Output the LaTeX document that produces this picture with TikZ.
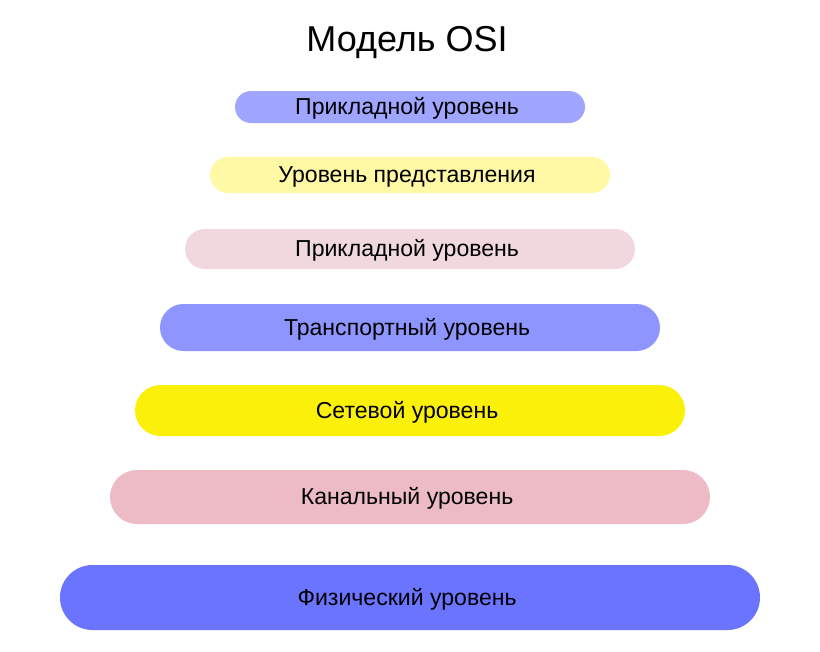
\documentclass[tikz,border=0pt]{standalone}
\usepackage{fontspec}
\setmainfont{Liberation Sans}
\definecolor{cA}{HTML}{A0A6FF}
\definecolor{cB}{HTML}{FFF9A6}
\definecolor{cC}{HTML}{F0D8DE}
\definecolor{cD}{HTML}{8E95FF}
\definecolor{cE}{HTML}{FBF00A}
\definecolor{cF}{HTML}{EDBBC6}
\definecolor{cG}{HTML}{6A74FF}
\tikzset{
  layerbar/.style n args={3}{fill=#1, draw=none, inner sep=0pt,
    minimum width=#2*0.75pt, minimum height=#3*0.75pt,
    rounded corners=#3*0.375pt},
  layertext/.style={font=\fontsize{17.3pt}{20pt}\selectfont, text=black, inner sep=0pt},
  titlenode/.style={font=\fontsize{27pt}{31pt}\selectfont, text=black, inner sep=0pt}
}
\begin{document}
\begin{tikzpicture}[x=0.75pt,y=-0.75pt]
\useasboundingbox[fill=white] (0,0) rectangle (820,651);
\node[titlenode] (title) at (407,43) {Модель OSI};
\node[layerbar={cA}{350}{32}] (l1) at (410,107) {};
\node[layerbar={cB}{400}{36}] (l2) at (410,175) {};
\node[layerbar={cC}{450}{40}] (l3) at (410,249) {};
\node[layerbar={cD}{500}{47}] (l4) at (410,327.5) {};
\node[layerbar={cE}{550}{51}] (l5) at (410,410.5) {};
\node[layerbar={cF}{600}{54}] (l6) at (410,497) {};
\node[layerbar={cG}{700}{65}] (l7) at (410,597.5) {};
\node[layertext] (t1) at ([xshift=-2.2pt,yshift=-1.3pt]l1.center) {Прикладной уровень};
\node[layertext] (t2) at ([xshift=-2.2pt,yshift=-1.3pt]l2.center) {Уровень представления};
\node[layertext] (t3) at ([xshift=-2.2pt,yshift=-1.3pt]l3.center) {Прикладной уровень};
\node[layertext] (t4) at ([xshift=-2.2pt,yshift=-1.3pt]l4.center) {Транспортный уровень};
\node[layertext] (t5) at ([xshift=-2.2pt,yshift=-1.3pt]l5.center) {Сетевой уровень};
\node[layertext] (t6) at ([xshift=-2.2pt,yshift=-1.3pt]l6.center) {Канальный уровень};
\node[layertext] (t7) at ([xshift=-2.2pt,yshift=-1.3pt]l7.center) {Физический уровень};
\end{tikzpicture}
\end{document}
